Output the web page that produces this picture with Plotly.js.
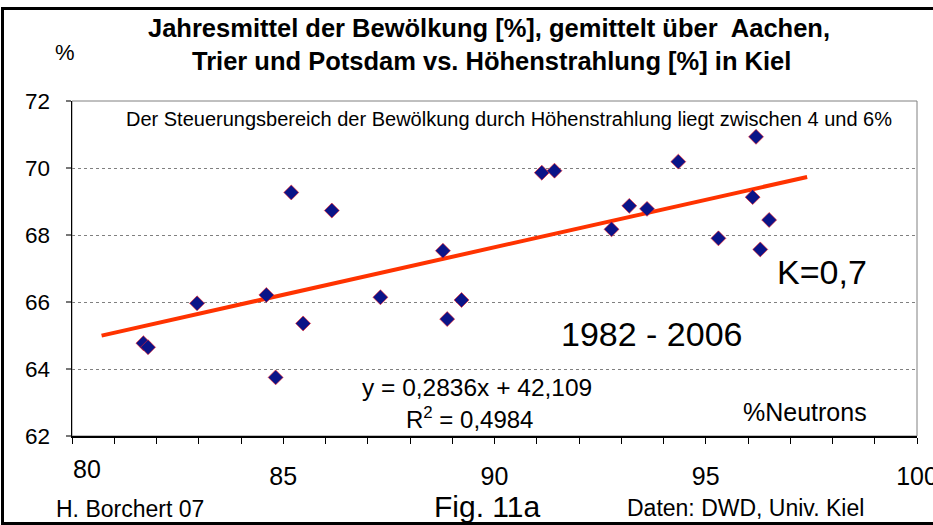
<!DOCTYPE html>
<html>
<head>
<meta charset="utf-8">
<script src="https://cdn.plot.ly/plotly-3.0.1.min.js"></script>
<style>
  html, body { margin:0; padding:0; background:#fff; }
  #wrap { position:relative; width:933px; height:525px; overflow:hidden; }
  #chart { position:absolute; left:0; top:0; width:933px; height:525px; }
  #frame { position:absolute; left:1px; top:7px; width:945px; height:512px; border:3px solid #000; pointer-events:none; }
</style>
</head>
<body>
<div id="wrap"><div id="chart"></div><div id="frame"></div></div>
<script>
// Neutron intensity (% of reference) in Kiel
const neutrons = [81.69, 81.80, 82.96, 84.60, 85.19, 86.15, 85.47, 84.82, 87.30, 88.78, 88.88, 89.22,
                  91.12, 91.42, 94.35, 96.19, 93.19, 93.61, 92.77, 96.11, 96.50, 95.30, 96.29];
// Annual mean cloud cover (%) averaged over Aachen, Trier, Potsdam
const cloudCover = [64.77, 64.65, 65.96, 66.21, 69.27, 68.73, 65.36, 63.75, 66.14, 67.53, 65.49, 66.06,
                    69.86, 69.92, 70.19, 70.93, 68.87, 68.78, 68.17, 69.13, 68.45, 67.90, 67.57];
// Linear trend line end points (y = 0,2836x + 42,109)
const trendX = [80.7, 97.4];
const trendY = [64.996, 69.732];
const yTicks = [62, 64, 66, 68, 70, 72];
const xTicks = [80, 85, 90, 95, 100];

const FONT = 'Liberation Sans, Arial, sans-serif';

const traces = [
  {
    x: trendX, y: trendY, mode: 'lines', type: 'scatter',
    line: { color: '#ff3300', width: 4 }, hoverinfo: 'skip', showlegend: false
  },
  {
    x: neutrons, y: cloudCover, mode: 'markers', type: 'scatter',
    marker: { symbol: 'diamond', size: 11.5, color: '#0a1488', line: { color: '#ff2020', width: 0.6 } },
    showlegend: false
  }
];

function ann(text, x, y, size, extra) {
  return Object.assign({ text: text, x: x, y: y, xref: 'paper', yref: 'paper', showarrow: false,
    xanchor: 'center', yanchor: 'middle', font: { family: FONT, size: size, color: '#000' } }, extra || {});
}

const layout = {
  width: 933, height: 525,
  margin: { l: 72, r: 16, t: 101, b: 89 },
  paper_bgcolor: '#fff', plot_bgcolor: '#fff',
  font: { family: FONT, color: '#000' },
  xaxis: {
    range: [80, 100], tickvals: xTicks.slice(1), ticktext: xTicks.slice(1).map(String),
    ticks: 'outside', ticklen: 6, tickwidth: 1, tickcolor: '#000',
    minor: { dtick: 1, ticks: 'outside', ticklen: 6, tickcolor: '#000', showgrid: false },
    showline: true, linecolor: '#000', linewidth: 1.5, showgrid: false, zeroline: false,
    tickfont: { family: FONT, size: 25, color: '#000' }, ticklabelstandoff: 11,
    ticklabeloverflow: 'allow'
  },
  yaxis: {
    range: [62, 72], tickvals: yTicks, ticktext: yTicks.map(String),
    ticks: 'outside', ticklen: 5, tickwidth: 2, tickcolor: '#777',
    showline: true, linecolor: '#000', linewidth: 1.5,
    showgrid: true, gridcolor: '#808080', griddash: 'dot', gridwidth: 1, zeroline: false,
    tickfont: { family: FONT, size: 22.5, color: '#000' }, ticklabelstandoff: 11
  },
  shapes: [
    { type: 'rect', xref: 'paper', yref: 'paper', x0: 0, x1: 1, y0: 0, y1: 1,
      line: { color: '#808080', width: 1 }, layer: 'below' }
  ],
  annotations: [
    ann('<b>Jahresmittel der Bewölkung [%], gemittelt über  Aachen,</b>', 0.4929, 1.218, 25.5),
    ann('<b>Trier und Potsdam vs. Höhenstrahlung [%] in Kiel</b>', 0.4959, 1.119, 25.5),
    ann('%', -0.0083, 1.146, 22),
    ann(String(xTicks[0]), xTicks[0], 0, 25, { xref: 'x', yanchor: 'top', xshift: 15, yshift: -17 }),
    ann('Der Steuerungsbereich der Bewölkung durch Höhenstrahlung liegt zwischen 4 und 6%', 0.517, 0.946, 20),
    ann('K=0,7', 0.8876, 0.4896, 34),
    ann('1982 - 2006', 0.6864, 0.3045, 34),
    ann('y = 0,2836x + 42,109', 0.479, 0.146, 24.5),
    ann('R<sup>2</sup> = 0,4984', 0.470, 0.054, 24),
    ann('%Neutrons', 0.8675, 0.0716, 25),
    ann('H. Borchert 07', 0.0686, -0.218, 23),
    ann('Fig. 11a', 0.491, -0.209, 30),
    ann('Daten: DWD, Univ. Kiel', 0.7976, -0.215, 23)
  ]
};

Plotly.newPlot('chart', traces, layout, { staticPlot: true, displayModeBar: false });
</script>
</body>
</html>
